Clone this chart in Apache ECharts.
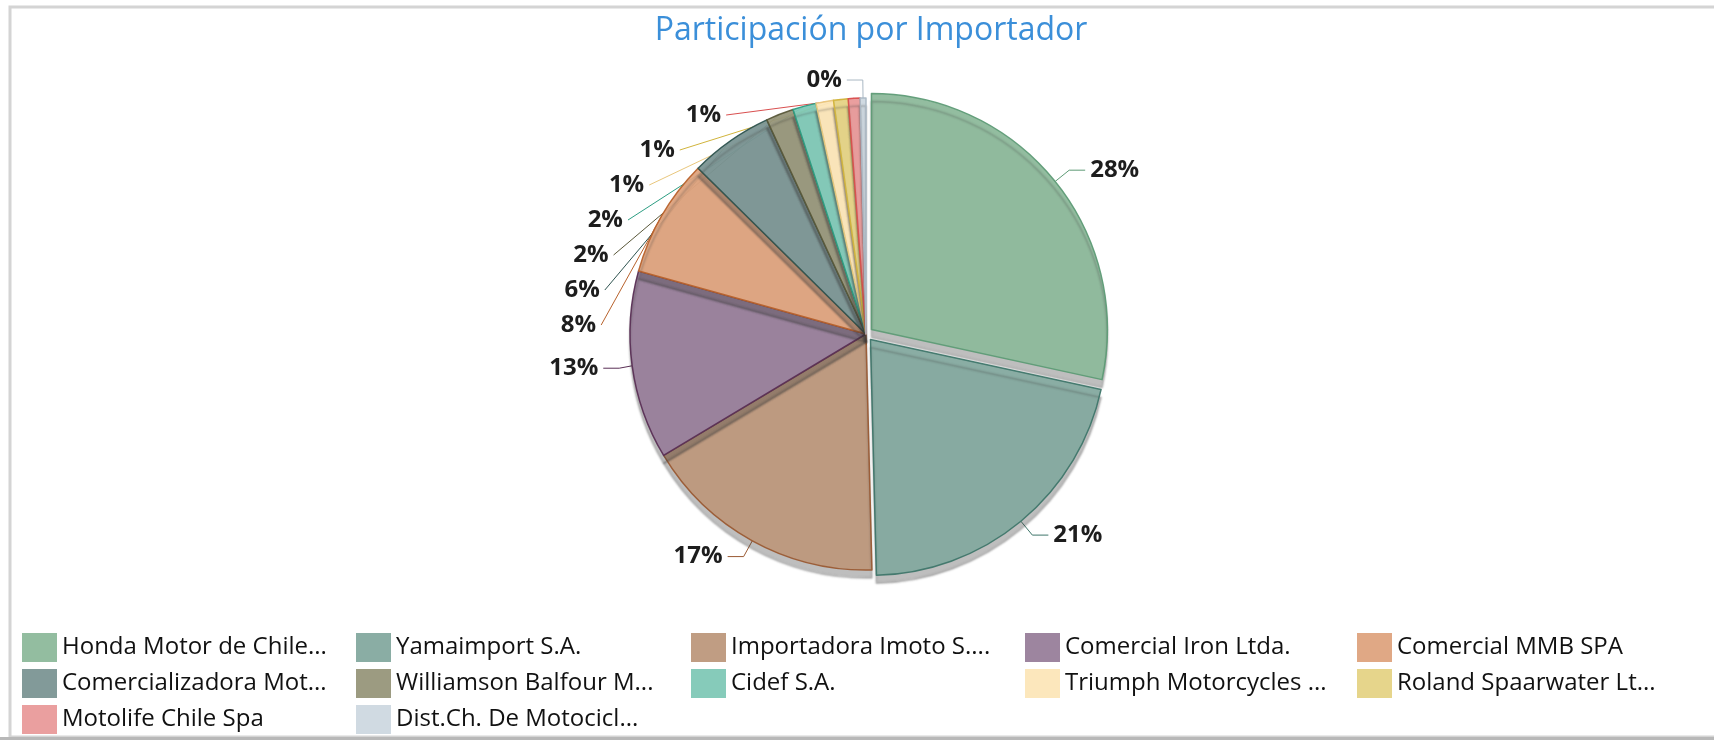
<!DOCTYPE html>
<html>
<head>
<meta charset="utf-8">
<script src="https://cdn.jsdelivr.net/npm/echarts@6/dist/echarts.min.js"></script>
<style>
  html, body { margin: 0; padding: 0; background: #fff; }
  #main { width: 1714px; height: 740px; }
</style>
</head>
<body>
<div id="main"></div>
<script>
// importers, in slice order (clockwise from 12 o'clock)
var importers = [
	'Honda Motor de Chile...', 'Yamaimport S.A.', 'Importadora Imoto S....', 'Comercial Iron Ltda.',
	'Comercial MMB SPA', 'Comercializadora Mot...', 'Williamson Balfour M...', 'Cidef S.A.',
	'Triumph Motorcycles ...', 'Roland Spaarwater Lt...', 'Motolife Chile Spa', 'Dist.Ch. De Motocicl...'
];
// share of units, percent
var shares = [28.4, 21.2, 16.8, 12.9, 8.1, 5.7, 1.9, 1.6, 1.2, 1.0, 0.8, 0.4];
var fillColors = ['#8db99b', '#84a99f', '#bd987c', '#987e9a', '#dea37e', '#7b9593',
	'#97967a', '#80c8b6', '#fce6b8', '#e5d385', '#e99a9a', '#cdd8e0'];
var edgeColors = ['#5e9b76', '#3f766a', '#9a5a33', '#5a2f55', '#b8622c', '#2f5450',
	'#5a583a', '#2d9e83', '#e9c77d', '#d1b43c', '#d94f4f', '#aab8c4'];
// legend columns (as laid out in the reference)
var legendCols = [
	[importers[0], importers[5], importers[10]],
	[importers[1], importers[6], importers[11]],
	[importers[2], importers[7]],
	[importers[3], importers[8]],
	[importers[4], importers[9]]
];
var legendLeft = [22, 356, 691, 1025, 1357];

var chart = echarts.init(document.getElementById('main'));

var pieData = importers.map(function(name, i) {
	return {
		name: name,
		value: shares[i],
		selected: i < 2,
		itemStyle: { color: fillColors[i], borderColor: edgeColors[i] },
		labelLine: { lineStyle: { color: edgeColors[i] } }
	};
});

var legends = legendCols.map(function(col, i) {
	return {
		orient: 'vertical',
		left: legendLeft[i],
		top: 633,
		padding: 0,
		itemWidth: 35,
		itemHeight: 29,
		itemGap: 7,
		icon: 'rect',
		selectedMode: false,
		itemStyle: { borderWidth: 0 },
		textStyle: { fontFamily: 'Open Sans', fontSize: 24, color: '#111' },
		data: col
	};
});

var option = {
	backgroundColor: '#fff',
	animation: false,
	title: {
		text: 'Participación por Importador',
		left: 866,
		textAlign: 'center',
		top: 10,
		textStyle: { fontFamily: 'Open Sans', fontSize: 32, fontWeight: 'normal', color: '#3b8fd9' }
	},
	legend: legends,
	graphic: [
		{ type: 'rect', shape: { x: 10, y: 7, width: 1720, height: 730 }, style: { fill: 'none', stroke: '#d4d4d4', lineWidth: 3 }, silent: true },
		{ type: 'rect', shape: { x: 0, y: 737, width: 1714, height: 3 }, style: { fill: '#b8b8b8' }, silent: true }
	],
	series: [{
		type: 'pie',
		center: [866, 334],
		radius: 236,
		startAngle: 90,
		clockwise: true,
		selectedMode: 'multiple',
		selectedOffset: 7,
		avoidLabelOverlap: true,
		itemStyle: {
			borderWidth: 1.5,
			opacity: 0.95,
			shadowColor: 'rgba(60,60,60,0.35)',
			shadowOffsetY: 8,
			shadowBlur: 2
		},
		label: {
			show: true,
			position: 'outside',
			formatter: function(p) { return Math.round(p.percent) + '%'; },
			fontFamily: 'Open Sans',
			fontWeight: 'bold',
			fontSize: 24,
			lineHeight: 33,
			color: '#111'
		},
		labelLine: { show: true, length: 18, length2: 16 },
		emphasis: { disabled: true },
		data: pieData
	}]
};

chart.setOption(option);
</script>
</body>
</html>
